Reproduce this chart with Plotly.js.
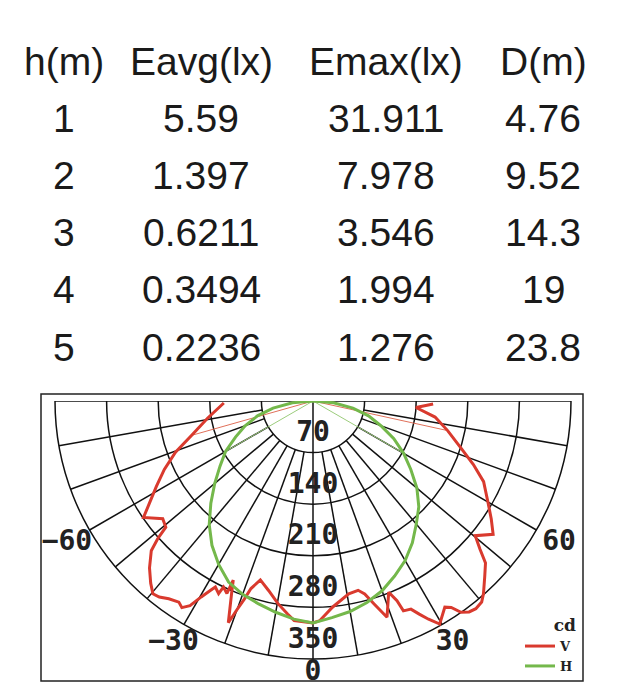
<!DOCTYPE html>
<html>
<head>
<meta charset="utf-8">
<script src="https://cdn.plot.ly/plotly-3.0.1.min.js"></script>
<style>html,body{margin:0;padding:0;background:#fff;}#chart{width:620px;height:700px;}</style>
</head>
<body>
<div id="chart"></div>
<script>
// ---- table data ----
const tableHeaders = ['h(m)', 'Eavg(lx)', 'Emax(lx)', 'D(m)'];
const heights = ['1', '2', '3', '4', '5'];
const eavg = ['5.59', '1.397', '0.6211', '0.3494', '0.2236'];
const emax = ['31.911', '7.978', '3.546', '1.994', '1.276'];
const dist = ['4.76', '9.52', '14.3', '19', '23.8'];

// ---- polar data (cd) ----
const vAngles = [-88.7, -80.7, -74.2, -69.6, -65.3, -61.4, -58.1, -55.5, -51.9, -49.4, -48.4, -47.2, -44.4, -41.7, -39.7, -38.1, -36.1, -33.7, -32.4, -31.0, -29.7, -28.4, -27.7, -26.1, -25.7, -24.1, -24.0, -22.9, -20.9, -20.1, -19.1, -18.3, -16.4, -13.2, -9.8, -6.8, -4.9, 0, 1.8, 5.4, 10.5, 13.4, 15.0, 16.8, 18.9, 21.6, 22.8, 23.3, 25.2, 26.5, 27.9, 29.6, 32.6, 33.8, 35.0, 36.5, 38.1, 40.0, 41.5, 44.4, 46.8, 48.4, 50.3, 53.5, 56.5, 60.0, 64.7, 68.4, 72.5, 77.6, 82.5, 86.4, 88.6];
const vValues = [121, 145, 171, 199, 222, 242, 261, 279, 259, 263, 282, 299, 317, 331, 340, 338, 332, 328, 332, 324, 306, 292, 285, 291, 280, 286, 266, 284, 322, 303, 284, 268, 253, 264, 279, 291, 299, 301, 298, 281, 266, 264, 271, 288, 310, 279, 294, 310, 312, 323, 335, 348, 332, 337, 350, 356, 358, 356, 349, 333, 321, 303, 286, 304, 290, 274, 256, 234, 210, 187, 167, 140, 163];
const hAngles = [-90, -85, -80, -75, -70, -65, -60, -55, -50, -45, -40, -35, -30, -25, -20, -15, -10, -5, 0, 5, 10, 15, 20, 25, 30, 35, 40, 45, 50, 55, 60, 65, 70, 75, 80, 85, 90];
const hValues = [0, 28, 55, 78, 98, 116, 137, 154, 174, 196, 219, 239, 256, 271, 279, 285, 291, 297, 301, 295, 290, 283, 274, 262, 250, 235, 218, 203, 184, 162, 142, 121, 98, 78, 55, 28, 0];
// thin connecting lines (angle, value)
const vLinkAngles = [-74.2, 77.6];
const vLinkValues = [171, 187];
const hLinkAngles = [-60, 60];
const hLinkValues = [140, 142];

const radialTicks = [70, 140, 210, 280, 350];
const angularTicks = [-60, -30, 0, 30, 60];
const angularTickText = ['\u221260', '\u221230', '0', '30', '60'];
const spokeAngles = [-90, -80, -70, -60, -50, -40, -30, -20, -10, 0, 10, 20, 30, 40, 50, 60, 70, 80, 90];

// ---- build traces ----
const rMax = radialTicks[radialTicks.length - 1];
const rRange = 392; // room outside the outer ring for the angle labels
const spokeR = [], spokeT = [];
spokeAngles.forEach(a => {
  const inner = (a === 0 || Math.abs(a) === 90) ? 0 : radialTicks[0];
  spokeR.push(inner, rMax, null);
  spokeT.push(a, a, null);
});
function links(angles, values) {
  const r = [], t = [];
  angles.forEach((a, i) => { r.push(0, values[i], null); t.push(a, a, null); });
  return {r, t};
}
const vl = links(vLinkAngles, vLinkValues);
const hl = links(hLinkAngles, hLinkValues);
// ring labels sit just inside each ring; angle labels just outside the outer ring
const ringLabelR = radialTicks.map(t => t - 25);
const angLabelR = angularTicks.map(a => rMax + 19 + 19 * Math.abs(Math.sin(a * Math.PI / 180)));

const RED = '#d93a2e', GREEN = '#74b84b';
const labelFont = {family: 'DejaVu Sans Mono', size: 28, weight: 'bold', color: '#222'};

const traces = [
  {type: 'scatterpolar', mode: 'lines', r: spokeR, theta: spokeT, line: {color: '#111', width: 1.5}, showlegend: false, hoverinfo: 'skip', connectgaps: false},
  {type: 'scatterpolar', mode: 'lines', r: vl.r, theta: vl.t, line: {color: '#e0705a', width: 1}, showlegend: false, hoverinfo: 'skip'},
  {type: 'scatterpolar', mode: 'lines', r: hl.r, theta: hl.t, line: {color: '#9ccc7c', width: 1}, showlegend: false, hoverinfo: 'skip'},
  {type: 'scatterpolar', mode: 'lines', name: 'V', r: vValues, theta: vAngles, line: {color: RED, width: 3}},
  {type: 'scatterpolar', mode: 'lines', name: 'H', r: hValues, theta: hAngles, line: {color: GREEN, width: 3}},
  {type: 'scatterpolar', mode: 'text', r: ringLabelR, theta: radialTicks.map(() => 0), text: radialTicks.map(String), textposition: 'middle center', textfont: labelFont, showlegend: false, hoverinfo: 'skip'},
  {type: 'scatterpolar', mode: 'text', r: angLabelR, theta: angularTicks, text: angularTickText, textposition: 'middle center', textfont: labelFont, showlegend: false, hoverinfo: 'skip'}
];

// ---- table annotations ----
const colX = [64, 201, 386, 543];
const annotations = [];
const headerY = 62, rowY0 = 118, rowStep = 57.3;
const tableFont = {family: 'Liberation Sans, Arial, sans-serif', size: 39, color: '#1a1a1a'};
tableHeaders.forEach((h, i) => annotations.push({text: h, x: colX[i] / 620, y: 1 - headerY / 700, xref: 'paper', yref: 'paper', xanchor: 'center', yanchor: 'middle', showarrow: false, font: tableFont}));
const columns = [heights, eavg, emax, dist];
heights.forEach((_, r) => {
  columns.forEach((col, c) => annotations.push({text: col[r], x: colX[c] / 620, y: 1 - (rowY0 + r * rowStep) / 700, xref: 'paper', yref: 'paper', xanchor: 'center', yanchor: 'middle', showarrow: false, font: tableFont}));
});

const cx = 313, cy = 401, R = 258 * rRange / rMax;
const layout = {
  width: 620, height: 700,
  margin: {l: 0, r: 0, t: 0, b: 0},
  paper_bgcolor: '#fff',
  showlegend: true,
  legend: {
    x: 578 / 620, xanchor: 'right', y: 1 - 609 / 700, yanchor: 'top',
    bgcolor: 'rgba(0,0,0,0)', borderwidth: 0,
    font: {family: 'DejaVu Serif', size: 13, weight: 'bold', color: '#222'},
    title: {text: 'cd', side: 'top right', font: {family: 'DejaVu Serif', size: 17, weight: 'bold', color: '#222'}},
    itemwidth: 30, tracegroupgap: 0
  },
  polar: {
    domain: {x: [(cx - R) / 620, (cx + R) / 620], y: [1 - (cy + R) / 700, 1 - cy / 700]},
    sector: [180, 360],
    bgcolor: 'rgba(0,0,0,0)',
    angularaxis: {
      rotation: -90, direction: 'counterclockwise',
      showticklabels: false,
      showgrid: false, ticks: '', showline: false
    },
    radialaxis: {
      range: [0, rRange], tickmode: 'array', tickvals: radialTicks,
      showgrid: true, gridcolor: '#111', gridwidth: 1.5,
      showticklabels: false, ticks: '', showline: false
    }
  },
  shapes: [{type: 'rect', xref: 'paper', yref: 'paper', x0: 41 / 620, x1: 583 / 620, y0: 1 - 681 / 700, y1: 1 - 394 / 700, line: {color: '#222', width: 1.5}}],
  annotations: annotations
};

Plotly.newPlot('chart', traces, layout, {displayModeBar: false, staticPlot: true});
</script>
</body>
</html>
